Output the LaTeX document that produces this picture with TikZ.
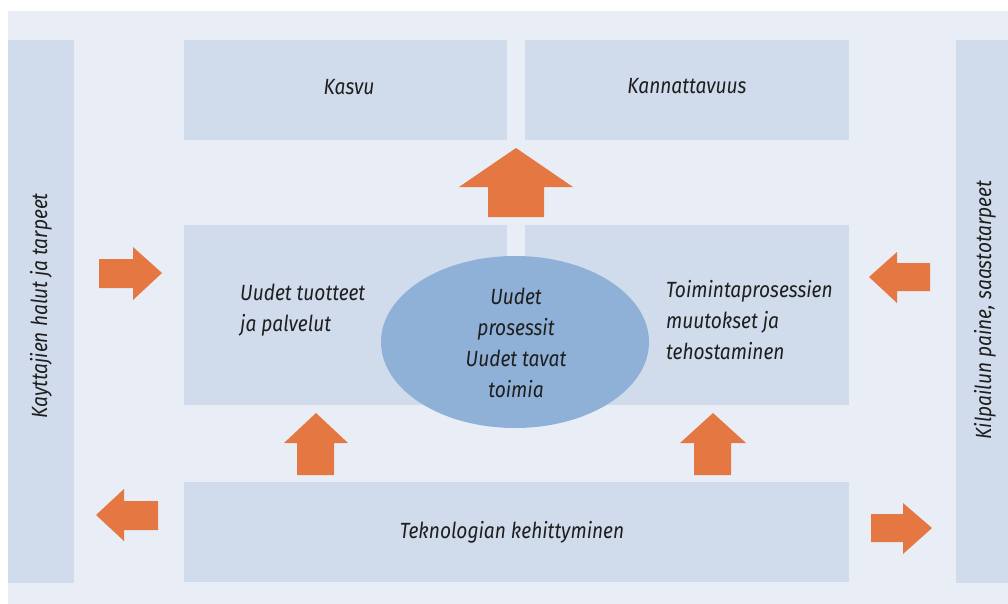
\documentclass[tikz,border=0pt]{standalone}
\usepackage{fontspec}
\setmainfont{Fira Sans}[FakeStretch=0.87]
\usetikzlibrary{shapes.geometric}
\definecolor{panel}{HTML}{E9EEF6}
\definecolor{boxc}{HTML}{D0DCEB}
\definecolor{ellc}{HTML}{8FB1D7}
\definecolor{orng}{HTML}{E57842}
\definecolor{txt}{HTML}{1E1E1E}
\begin{document}
\begin{tikzpicture}[x=1pt,y=-1pt,
  box/.style={fill=boxc, draw=none, inner sep=0pt},
  lbl/.style={inner sep=0pt, font=\itshape\fontsize{22}{31}\selectfont, text=txt},
  blk/.style={fill=orng, draw=none}]
\useasboundingbox (0,0) rectangle (1008,604);
\fill[white] (0,0) rectangle (1008,604);
\fill[panel] (8,11) rectangle (1008,604);
% side bars
\node[box, minimum width=66pt, minimum height=543pt] (left) at (41,311.5) {};
\node[box, minimum width=52pt, minimum height=543pt] (right) at (982,311.5) {};
\node[lbl, rotate=90] (lefttxt) at (41,306) {Kayttajien halut ja tarpeet};
\node[lbl, rotate=90] (righttxt) at (985,310) {Kilpailun paine, saastotarpeet};
% top boxes
\node[box, minimum width=323pt, minimum height=100pt] (kasvu) at (345.5,90) {};
\node[lbl] (kasvutxt) at (349,87) {Kasvu};
\node[box, minimum width=324pt, minimum height=100pt] (kann) at (687,90) {};
\node[lbl] (kanntxt) at (687,86) {Kannattavuus};
% middle boxes
\node[box, minimum width=323pt, minimum height=180pt] (mleft) at (345.5,315) {};
\node[box, minimum width=324pt, minimum height=180pt] (mright) at (687,315) {};
\node[lbl, align=left, anchor=west] (mlefttxt) at (240,310) {Uudet tuotteet\\ja palvelut};
\node[lbl, align=left, anchor=west] (mrighttxt) at (666,320) {Toimintaprosessien\\muutokset ja\\tehostaminen};
% ellipse
\node[ellipse, fill=ellc, draw=none, minimum width=268pt, minimum height=172pt] (ell) at (515,342) {};
\node[lbl, align=center] (elltxt) at (516,343) {Uudet\\prosessit\\Uudet tavat\\toimia};
% bottom box
\node[box, minimum width=665pt, minimum height=100pt] (tek) at (516.5,532) {};
\node[lbl] (tektxt) at (512,532) {Teknologian kehittyminen};
% arrows
\fill[blk] (516,148) -- (573,187) -- (544,187) -- (544,217) -- (488,217) -- (488,187) -- (459,187) -- cycle;
\fill[blk] (316,413) -- (348,443) -- (334,443) -- (334,475) -- (297,475) -- (297,443) -- (284,443) -- cycle;
\fill[blk] (713,413) -- (746,443) -- (731,443) -- (731,475) -- (694,475) -- (694,443) -- (680,443) -- cycle;
\fill[blk] (162,273) -- (133,247) -- (133,259) -- (99,259) -- (99,288) -- (133,288) -- (133,300) -- cycle;
\fill[blk] (96,515) -- (124,489) -- (124,501) -- (158,501) -- (158,530) -- (124,530) -- (124,541) -- cycle;
\fill[blk] (869,277) -- (897,252) -- (897,263) -- (930,263) -- (930,291) -- (897,291) -- (897,303) -- cycle;
\fill[blk] (932,528) -- (903,503) -- (903,514) -- (871,514) -- (871,542) -- (903,542) -- (903,554) -- cycle;
\end{tikzpicture}
\end{document}
